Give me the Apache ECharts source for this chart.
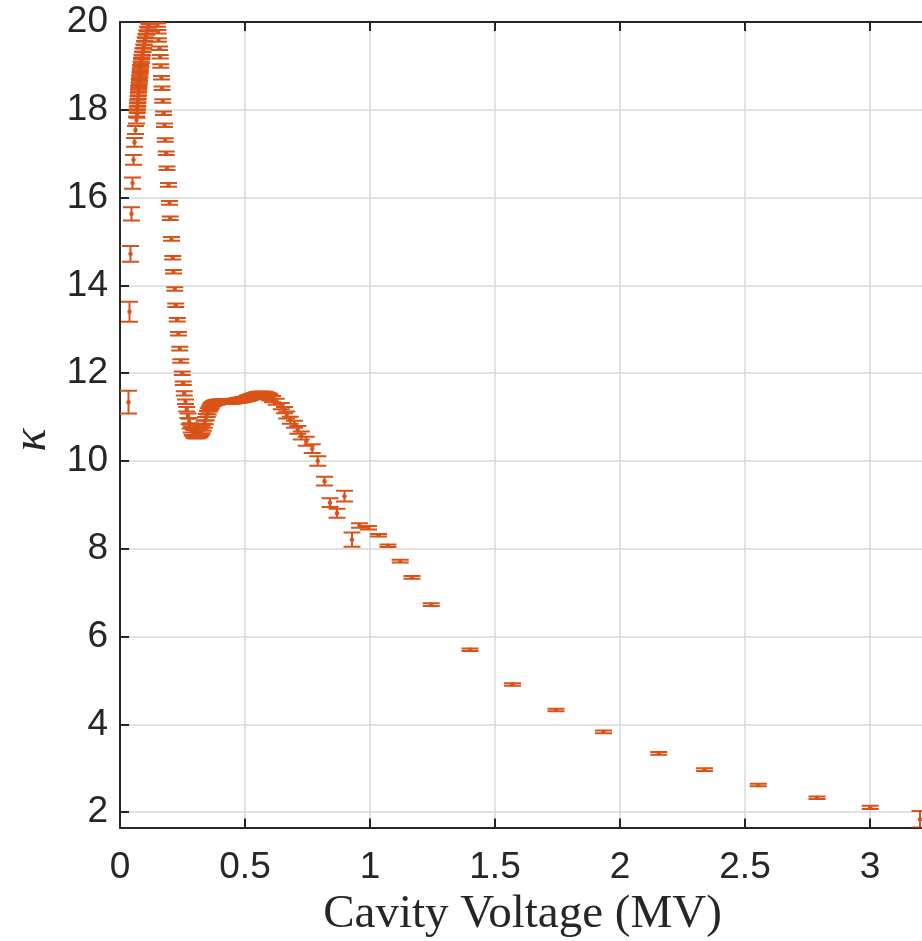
<!DOCTYPE html>
<html>
<head>
<meta charset="utf-8">
<script src="https://cdn.jsdelivr.net/npm/echarts@6/dist/echarts.min.js"></script>
<style>
  html, body { margin: 0; padding: 0; background: #ffffff; }
  #chart { width: 922px; height: 941px; }
</style>
</head>
<body>
<div id="chart"></div>
<script>
// Cavity voltage (MV) of each measurement
const voltage = [
  0.034, 0.038, 0.042, 0.046, 0.050, 0.054, 0.058, 0.062, 0.066, 0.068,
  0.069, 0.070, 0.071, 0.072, 0.073, 0.074, 0.075, 0.076, 0.077, 0.078,
  0.080, 0.081, 0.082, 0.084, 0.086, 0.088, 0.090, 0.092, 0.095, 0.098,
  0.101, 0.104, 0.107, 0.110, 0.114, 0.118, 0.122, 0.127, 0.132, 0.137,
  0.142, 0.146, 0.150, 0.152, 0.154, 0.158, 0.161, 0.163, 0.166, 0.168,
  0.171, 0.174, 0.178, 0.181, 0.185, 0.188, 0.194, 0.198, 0.201, 0.206,
  0.211, 0.214, 0.219, 0.223, 0.229, 0.234, 0.239, 0.243, 0.249, 0.253,
  0.257, 0.262, 0.267, 0.272, 0.277, 0.281, 0.285, 0.289, 0.293, 0.297,
  0.301, 0.305, 0.309, 0.313, 0.317, 0.321, 0.325, 0.329, 0.333, 0.337,
  0.341, 0.345, 0.349, 0.353, 0.357, 0.361, 0.365, 0.369, 0.373, 0.377,
  0.381, 0.385, 0.390, 0.395, 0.400, 0.405, 0.410, 0.415, 0.420, 0.425,
  0.430, 0.435, 0.440, 0.445, 0.450, 0.455, 0.460, 0.465, 0.470, 0.475,
  0.480, 0.485, 0.490, 0.495, 0.500, 0.505, 0.510, 0.515, 0.520, 0.525,
  0.530, 0.535, 0.540, 0.545, 0.550, 0.555, 0.560, 0.565, 0.570, 0.575,
  0.580, 0.585, 0.590, 0.595, 0.600, 0.610, 0.625, 0.645, 0.658, 0.667,
  0.681, 0.698, 0.711, 0.725, 0.745, 0.769, 0.791, 0.818, 0.840, 0.868,
  0.898, 0.928, 0.958, 0.994, 1.034, 1.072, 1.121, 1.168, 1.245, 1.400,
  1.570, 1.744, 1.934, 2.155, 2.338, 2.553, 2.788, 3.001, 3.200
];

// Coupling factor kappa at each voltage
const kappa = [
  11.34, 13.40, 14.72, 15.63, 16.33, 16.86, 17.26, 17.54, 17.77, 17.90,
  18.00, 18.08, 18.16, 18.24, 18.32, 18.40, 18.48, 18.56, 18.64, 18.72,
  18.80, 18.88, 18.96, 19.04, 19.12, 19.20, 19.28, 19.36, 19.44, 19.52,
  19.60, 19.68, 19.76, 19.84, 19.92, 20.00, 20.08, 20.15, 20.18, 20.16,
  20.10, 20.02, 19.93, 19.78, 19.59, 19.40, 19.21, 19.00, 18.73, 18.49,
  18.20, 17.92, 17.65, 17.31, 17.01, 16.67, 16.29, 15.88, 15.53, 15.06,
  14.63, 14.31, 13.92, 13.55, 13.22, 12.90, 12.56, 12.28, 12.00, 11.77,
  11.54, 11.35, 11.18, 11.03, 10.90, 10.80, 10.72, 10.67, 10.64, 10.62,
  10.61, 10.61, 10.61, 10.62, 10.63, 10.65, 10.68, 10.72, 10.77, 10.84,
  10.92, 11.00, 11.07, 11.13, 11.18, 11.22, 11.26, 11.29, 11.31, 11.32,
  11.33, 11.34, 11.34, 11.35, 11.35, 11.35, 11.35, 11.35, 11.35, 11.35,
  11.35, 11.35, 11.35, 11.36, 11.36, 11.36, 11.37, 11.37, 11.38, 11.38,
  11.39, 11.39, 11.40, 11.40, 11.41, 11.42, 11.43, 11.44, 11.45, 11.46,
  11.47, 11.48, 11.49, 11.50, 11.51, 11.51, 11.52, 11.52, 11.52, 11.52,
  11.51, 11.50, 11.49, 11.47, 11.45, 11.41, 11.35, 11.25, 11.16, 11.05,
  10.93, 10.84, 10.71, 10.58, 10.45, 10.28, 10.00, 9.54, 9.05, 8.81,
  9.20, 8.21, 8.53, 8.48, 8.31, 8.07, 7.72, 7.35, 6.73, 5.70,
  4.91, 4.33, 3.83, 3.34, 2.97, 2.62, 2.33, 2.11, 1.84
];

// Half-length of each error bar
const kappaErr = [
  0.26, 0.23, 0.18, 0.15, 0.13, 0.11, 0.10, 0.09, 0.08, 0.08,
  0.07, 0.07, 0.07, 0.07, 0.07, 0.07, 0.06, 0.06, 0.06, 0.06,
  0.06, 0.06, 0.06, 0.06, 0.06, 0.05, 0.05, 0.05, 0.05, 0.05,
  0.05, 0.05, 0.05, 0.05, 0.05, 0.05, 0.05, 0.05, 0.05, 0.05,
  0.05, 0.05, 0.04, 0.04, 0.04, 0.04, 0.04, 0.04, 0.04, 0.04,
  0.04, 0.04, 0.04, 0.04, 0.04, 0.04, 0.04, 0.04, 0.04, 0.04,
  0.04, 0.04, 0.04, 0.04, 0.04, 0.04, 0.04, 0.04, 0.04, 0.04,
  0.05, 0.05, 0.05, 0.05, 0.06, 0.06, 0.07, 0.08, 0.08, 0.09,
  0.09, 0.09, 0.09, 0.09, 0.09, 0.09, 0.09, 0.09, 0.08, 0.08,
  0.08, 0.07, 0.07, 0.07, 0.06, 0.06, 0.06, 0.05, 0.05, 0.05,
  0.05, 0.05, 0.05, 0.05, 0.05, 0.05, 0.05, 0.05, 0.05, 0.05,
  0.05, 0.05, 0.05, 0.05, 0.05, 0.05, 0.05, 0.05, 0.05, 0.05,
  0.05, 0.05, 0.05, 0.05, 0.05, 0.05, 0.06, 0.06, 0.06, 0.06,
  0.06, 0.06, 0.06, 0.06, 0.06, 0.06, 0.06, 0.06, 0.06, 0.06,
  0.06, 0.06, 0.06, 0.07, 0.07, 0.07, 0.07, 0.07, 0.07, 0.08,
  0.08, 0.08, 0.09, 0.09, 0.10, 0.10, 0.11, 0.10, 0.10, 0.10,
  0.12, 0.16, 0.05, 0.04, 0.03, 0.03, 0.03, 0.03, 0.03, 0.03,
  0.03, 0.03, 0.03, 0.03, 0.03, 0.03, 0.03, 0.035, 0.19
];

// Labelled ticks
const xTickValues = [0, 0.5, 1, 1.5, 2, 2.5, 3];
const yTickValues = [2, 4, 6, 8, 10, 12, 14, 16, 18, 20];

const xAxisTitle = 'Cavity Voltage (MV)';
const yAxisTitle = 'κ';

const MARK_COLOR = '#D95319';
const AXIS_COLOR = '#262626';
const GRID_COLOR = '#d8d8d8';

const points = voltage.map((v, i) => [v, kappa[i], kappaErr[i]]);

function isTick(list, v) {
  return list.some(t => Math.abs(t - v) < 1e-6);
}

// Vertical error bar with caps and a small dot at the measured value
function renderErrorBar(params, api) {
  const x = api.value(0);
  const y = api.value(1);
  const e = api.value(2);
  const c = api.coord([x, y]);
  const hi = api.coord([x, y + e]);
  const lo = api.coord([x, y - e]);
  const hw = 8.5;
  const lineStyle = { stroke: MARK_COLOR, lineWidth: 2, fill: null };
  return {
    type: 'group',
    children: [
      { type: 'line', shape: { x1: c[0], y1: hi[1], x2: c[0], y2: lo[1] }, style: lineStyle },
      { type: 'line', shape: { x1: c[0] - hw, y1: hi[1], x2: c[0] + hw, y2: hi[1] }, style: lineStyle },
      { type: 'line', shape: { x1: c[0] - hw, y1: lo[1], x2: c[0] + hw, y2: lo[1] }, style: lineStyle },
      { type: 'circle', shape: { cx: c[0], cy: c[1], r: 2.2 }, style: { fill: MARK_COLOR, stroke: null } }
    ]
  };
}

const chart = echarts.init(document.getElementById('chart'), null, { renderer: 'canvas' });

const tickFont = { fontFamily: 'Liberation Sans, Arial, sans-serif', fontSize: 37, color: AXIS_COLOR };

chart.setOption({
  animation: false,
  backgroundColor: '#ffffff',
  grid: { left: 120, top: 22, width: 805, height: 805.6, containLabel: false, outerBoundsMode: 'none' },
  xAxis: [
    {
      type: 'value',
      position: 'bottom',
      min: 0,
      max: 3.22,
      interval: 0.5,
      name: xAxisTitle,
      nameLocation: 'middle',
      nameGap: 62,
      nameTextStyle: { fontFamily: 'Liberation Serif, serif', fontSize: 47, color: AXIS_COLOR },
      axisLine: { show: true, lineStyle: { color: AXIS_COLOR, width: 2 } },
      axisTick: { show: true, inside: true, length: 9, lineStyle: { color: AXIS_COLOR, width: 2 } },
      axisLabel: Object.assign({
        margin: 22,
        formatter: v => (isTick(xTickValues, v) ? String(v) : '')
      }, tickFont),
      splitLine: { show: true, lineStyle: { color: GRID_COLOR, width: 1.5 } }
    },
    {
      type: 'value',
      position: 'top',
      min: 0,
      max: 3.22,
      interval: 0.5,
      axisLine: { show: true, lineStyle: { color: AXIS_COLOR, width: 2 } },
      axisTick: { show: true, inside: true, length: 9, lineStyle: { color: AXIS_COLOR, width: 2 } },
      axisLabel: { show: false },
      splitLine: { show: false }
    }
  ],
  yAxis: {
    type: 'value',
    min: 1.65,
    max: 20,
    splitNumber: 9,
    minInterval: 2,
    maxInterval: 2,
    axisLine: { show: true, lineStyle: { color: AXIS_COLOR, width: 2 } },
    axisTick: { show: true, inside: true, length: 9, lineStyle: { color: AXIS_COLOR, width: 2 } },
    axisLabel: Object.assign({
      margin: 12,
      formatter: v => (isTick(yTickValues, v) ? String(v) : '')
    }, tickFont),
    splitLine: { show: true, lineStyle: { color: GRID_COLOR, width: 1.5 } }
  },
  graphic: [
    {
      type: 'text',
      x: 32,
      y: 440,
      rotation: Math.PI / 2,
      style: {
        text: yAxisTitle,
        font: 'italic 48px "Liberation Serif", serif',
        fill: AXIS_COLOR,
        align: 'center',
        verticalAlign: 'middle'
      }
    }
  ],
  series: [
    {
      type: 'custom',
      xAxisIndex: 0,
      yAxisIndex: 0,
      clip: true,
      renderItem: renderErrorBar,
      encode: { x: 0, y: 1 },
      data: points
    }
  ]
});
</script>
</body>
</html>
